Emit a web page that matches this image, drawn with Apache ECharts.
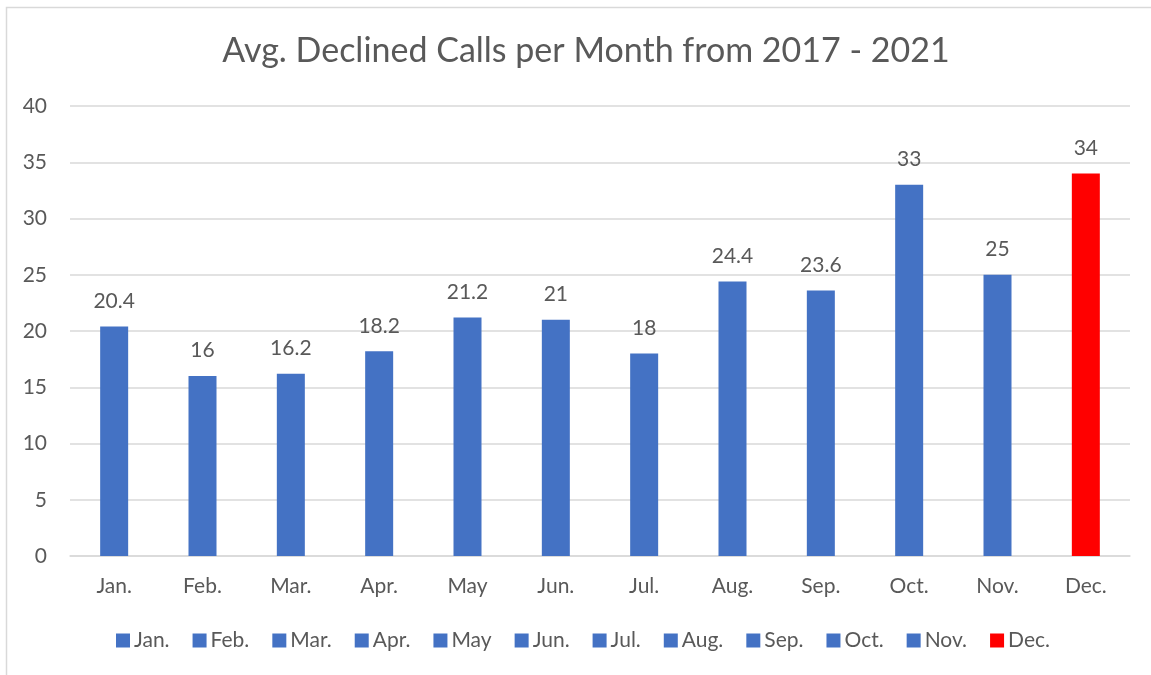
<!DOCTYPE html>
<html>
<head>
<meta charset="utf-8">
<script src="https://cdn.jsdelivr.net/npm/echarts@6/dist/echarts.min.js"></script>
<style>
  html, body { margin: 0; padding: 0; background: #fff; }
  #chart { width: 1151px; height: 675px; }
</style>
</head>
<body>
<div id="chart"></div>
<script>
const months = ['Jan.', 'Feb.', 'Mar.', 'Apr.', 'May', 'Jun.', 'Jul.', 'Aug.', 'Sep.', 'Oct.', 'Nov.', 'Dec.'];
const declined = [20.4, 16, 16.2, 18.2, 21.2, 21, 18, 24.4, 23.6, 33, 25, 34];
const barColors = ['#4472C4', '#4472C4', '#4472C4', '#4472C4', '#4472C4', '#4472C4',
  '#4472C4', '#4472C4', '#4472C4', '#4472C4', '#4472C4', '#FF0000'];
const yTicks = [0, 5, 10, 15, 20, 25, 30, 35, 40];

const font = 'Lato, "Open Sans", sans-serif';
const textColor = '#595959';

const chart = echarts.init(document.getElementById('chart'), null, { renderer: 'canvas' });

// one series per month so each month gets its own legend entry
const series = months.map((m, i) => ({
  name: m,
  type: 'bar',
  stack: 'months',
  barWidth: 28,
  itemStyle: { color: barColors[i] },
  label: {
    show: true,
    position: 'top',
    distance: 15,
    color: textColor,
    fontFamily: font,
    fontSize: 21,
    formatter: p => (p.value == null ? '' : String(p.value))
  },
  data: months.map((_, j) => (j === i ? declined[i] : null))
}));

chart.setOption({
  backgroundColor: '#ffffff',
  animation: false,
  title: {
    text: 'Avg. Declined Calls per Month from 2017 - 2021',
    left: 581,
    textAlign: 'center',
    top: 29,
    textStyle: { color: textColor, fontFamily: font, fontSize: 34, fontWeight: 'normal' }
  },
  legend: {
    data: months,
    bottom: 19,
    left: 111,
    icon: 'rect',
    itemWidth: 14,
    itemHeight: 14,
    itemGap: 23,
    textStyle: { color: textColor, fontFamily: font, fontSize: 21, padding: [0, 0, 0, -1] }
  },
  graphic: [{
    type: 'rect',
    shape: { x: 6.5, y: 7.5, width: 1200, height: 720 },
    style: { fill: 'none', stroke: '#d9d9d9', lineWidth: 1.5 },
    silent: true
  }],
  grid: { left: 70, right: 21, top: 106, bottom: 119 },
  xAxis: {
    type: 'category',
    data: months,
    axisLine: { lineStyle: { color: '#d9d9d9', width: 1.5 } },
    axisTick: { show: false },
    axisLabel: { color: textColor, fontFamily: font, fontSize: 21, margin: 20 }
  },
  yAxis: {
    type: 'value',
    min: yTicks[0],
    max: yTicks[yTicks.length - 1],
    interval: 5,
    axisLine: { show: false },
    axisTick: { show: false },
    splitLine: { lineStyle: { color: '#d9d9d9', width: 1.5 } },
    axisLabel: { color: textColor, fontFamily: font, fontSize: 21, margin: 23 }
  },
  series: series
});
</script>
</body>
</html>
